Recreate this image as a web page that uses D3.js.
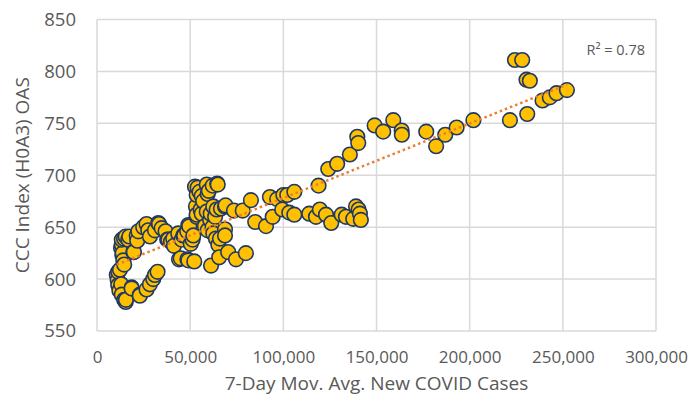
<!DOCTYPE html>
<html>
<head>
<meta charset="utf-8">
<script src="https://cdn.jsdelivr.net/npm/d3@7"></script>
<style>
    html, body { margin: 0; padding: 0; background: #fff; }
    svg text { font-family: "Open Sans", "DejaVu Sans", sans-serif; fill: #595959; }
</style>
</head>
<body>
<div id="chart"></div>
<script>
// 7-day moving avg of new COVID cases vs CCC index OAS (bp)
const cases = [
    10600, 11100, 11400, 11400, 12000, 12300, 13000, 13300, 14600, 15400, 15500,
    12900, 13300, 13600, 13800, 14100, 14600, 13300, 14500, 15400, 16800, 17300,
    18600, 18600, 19500, 19800, 21300, 21600, 22200, 23000, 23000, 24800, 26600,
    26600, 27500, 28400, 28400, 30200, 31100, 31100, 32500, 32900, 33300, 34700,
    36800, 37700, 38300, 39700,
    40900, 41300, 43600, 44000, 44900, 45400, 46300, 46800, 48400, 48500, 49000,
    49000, 49500, 50300, 51300, 51700, 52200, 52600, 53100, 53500, 53500, 53500,
    54000, 55000, 55600, 56200, 56200, 57000, 57900, 58900, 58900, 59400, 59400,
    60000, 60700, 61000, 61200, 62000, 62100, 62400, 62400, 63400, 63800, 64200,
    64500, 64800, 65100, 65600, 66000, 66500, 68700, 68700, 68700, 69000, 70400,
    73500, 74600, 78200, 79900, 82600, 84900,
    90700, 92800, 94300, 96700, 99400, 100000, 102100, 103200, 105900, 105900,
    113900, 117500, 118900, 119600, 122900, 124100, 125700, 128900, 131300, 133600,
    135700, 137500, 139000, 139700, 140200, 140400, 141100, 141600, 149000, 153600,
    159000, 163500, 163600, 176700, 182000, 186900, 193000, 202000, 221600, 224300,
    228200, 230500, 230900, 232300, 239100, 243000, 246600, 252200
];
const oas = [
    604, 599, 607, 594, 589, 609, 595, 585, 580, 578, 580,
    630, 633, 623, 625, 618, 614, 638, 639, 641, 638, 641,
    592, 591, 626, 626, 642, 637, 646, 585, 584, 650, 653,
    590, 647, 595, 641, 600, 647, 604, 607, 654, 653, 649,
    646, 638, 638, 636,
    639, 632, 644, 619, 620, 638, 642, 642, 646, 619, 618,
    652, 651, 634, 638, 642, 617, 689, 670, 681, 660, 662,
    688, 684, 667, 680, 663, 675, 651, 691, 665, 682, 647,
    685, 657, 663, 613, 650, 690, 670, 644, 660, 639, 667,
    692, 691, 633, 621, 639, 668, 670, 648, 642, 671, 626,
    666, 619, 666, 625, 676, 655,
    651, 679, 660, 677, 667, 681, 681, 664, 684, 662,
    663, 660, 690, 667, 662, 706, 654, 711, 662, 660,
    720, 658, 670, 737, 731, 667, 663, 657, 748, 742,
    753, 743, 739, 742, 728, 739, 746, 753, 753, 811,
    811, 792, 759, 791, 772, 775, 779, 782
];
const xTicks = [0, 50000, 100000, 150000, 200000, 250000, 300000];
const yTicks = [550, 600, 650, 700, 750, 800, 850];
const rSquaredLabel = 'R\u00B2 = 0.78';

const points = cases.map((c, i) => ({ x: c, y: oas[i] }));

const width = 688, height = 396;
const margin = { top: 19.5, right: 32, bottom: 65, left: 97 };
const innerW = width - margin.left - margin.right;
const innerH = height - margin.top - margin.bottom;

const svg = d3.select('#chart')
    .append('svg')
    .attr('width', width)
    .attr('height', height);

const g = svg.append('g')
    .attr('transform', `translate(${margin.left},${margin.top})`);

const x = d3.scaleLinear().domain([0, 300000]).range([0, innerW]);
const y = d3.scaleLinear().domain([550, 850]).range([innerH, 0]);

// gridlines
g.append('g')
    .selectAll('line.v')
    .data(xTicks)
    .join('line')
    .attr('x1', d => x(d)).attr('x2', d => x(d))
    .attr('y1', 0).attr('y2', innerH)
    .attr('stroke', '#d9d9d9')
    .attr('stroke-width', 1.5);

g.append('g')
    .selectAll('line.h')
    .data(yTicks)
    .join('line')
    .attr('x1', 0).attr('x2', innerW)
    .attr('y1', d => y(d)).attr('y2', d => y(d))
    .attr('stroke', '#d9d9d9')
    .attr('stroke-width', 1.5);

// axes (labels only, lines come from the grid)
const fmt = d3.format(',');
const xAxis = g.append('g')
    .attr('transform', `translate(0,${innerH})`)
    .call(d3.axisBottom(x).tickValues(xTicks).tickFormat(d => fmt(d)).tickSize(0).tickPadding(20));
const yAxis = g.append('g')
    .call(d3.axisLeft(y).tickValues(yTicks).tickSize(0).tickPadding(21));
[xAxis, yAxis].forEach(a => {
    a.select('.domain').remove();
    a.selectAll('text').attr('fill', '#595959');
});
xAxis.selectAll('text').style('font-size', '17px');
yAxis.selectAll('text').style('font-size', '18.5px');

// points
g.append('g')
    .selectAll('circle')
    .data(points)
    .join('circle')
    .attr('cx', d => x(d.x))
    .attr('cy', d => y(d.y))
    .attr('r', 7.3)
    .attr('fill', '#ffc000')
    .attr('stroke', '#1f3864')
    .attr('stroke-width', 1.6);

// linear trendline (least squares)
const mx = d3.mean(points, d => d.x);
const my = d3.mean(points, d => d.y);
const slope = d3.sum(points, d => (d.x - mx) * (d.y - my)) / d3.sum(points, d => (d.x - mx) ** 2);
const intercept = my - slope * mx;
const xExt = d3.extent(points, d => d.x);

g.append('path')
    .datum(xExt.map(v => ({ x: v, y: intercept + slope * v })))
    .attr('d', d3.line().x(d => x(d.x)).y(d => y(d.y)))
    .attr('fill', 'none')
    .attr('stroke', '#ed7d31')
    .attr('stroke-width', 2.5)
    .attr('stroke-dasharray', '2.5 3');

g.append('text')
    .attr('x', innerW - 11)
    .attr('y', 31.5)
    .attr('text-anchor', 'end')
    .attr('dominant-baseline', 'middle')
    .style('font-size', '14.5px')
    .text(rSquaredLabel);

// axis titles
svg.append('text')
    .attr('x', margin.left + innerW / 2)
    .attr('y', 390)
    .attr('text-anchor', 'middle')
    .style('font-size', '19px')
    .text('7-Day Mov.  Avg. New COVID Cases');

svg.append('text')
    .attr('transform', `translate(29,${margin.top + innerH / 2}) rotate(-90)`)
    .attr('text-anchor', 'middle')
    .style('font-size', '19px')
    .text('CCC Index (H0A3) OAS');
</script>
</body>
</html>
